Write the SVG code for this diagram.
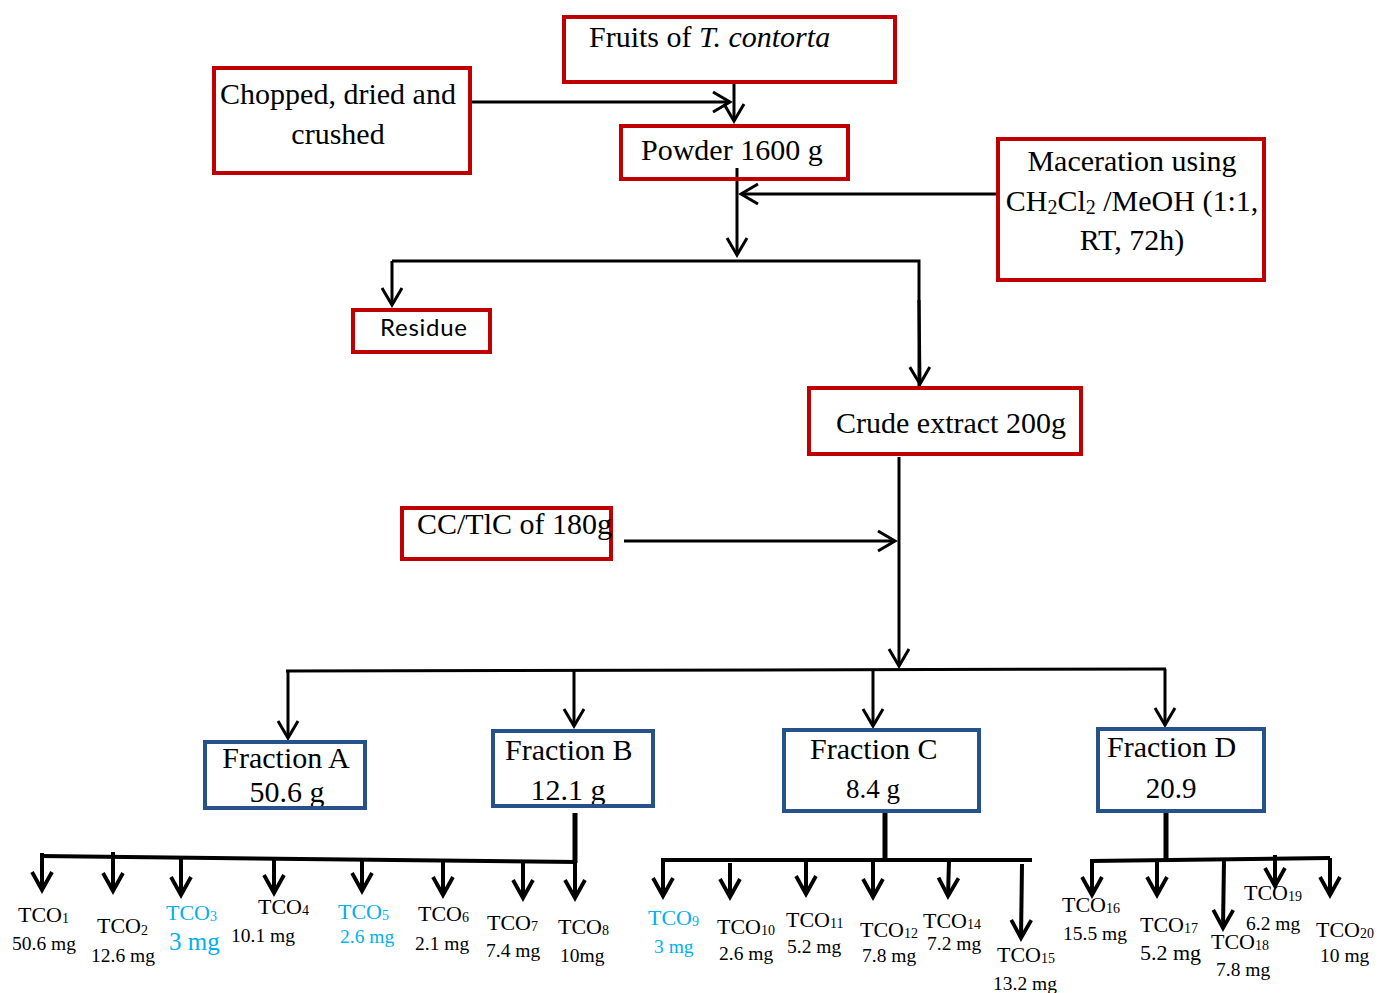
<svg xmlns="http://www.w3.org/2000/svg" width="1379" height="993" viewBox="0 0 1379 993">
  <defs>
    <style>
      .r { fill: none; stroke: #C00000; stroke-width: 4; }
      .b { fill: none; stroke: #27518A; stroke-width: 4; }
      .t { font-family: "Liberation Serif", "Times New Roman", serif; font-size: 30px; fill: #000; }
      .lbl { font-family: "Liberation Serif", "Times New Roman", serif; font-size: 22px; fill: #000; }
      .mg { font-family: "Liberation Serif", "Times New Roman", serif; font-size: 19.5px; fill: #000; }
      .blue { fill: #00B0F0; }
      .sub { font-size: 14px; }
      .big { font-size: 25px; }
      .mid { font-size: 22px; }
      .c { fill: none; stroke: #000; stroke-width: 3; }
      .c4 { fill: none; stroke: #000; stroke-width: 4; }
      .trunk { fill: none; stroke: #000; stroke-width: 5; }
    </style>
    <marker id="ah" viewBox="-22 -13 26 26" refX="0" refY="0" markerWidth="26" markerHeight="26" markerUnits="userSpaceOnUse" orient="auto">
      <path d="M-17,-10 L0,0 L-17,10" fill="none" stroke="#000" stroke-width="3"/>
    </marker>
    <marker id="ah4" viewBox="-22 -13 26 26" refX="0" refY="0" markerWidth="26" markerHeight="26" markerUnits="userSpaceOnUse" orient="auto">
      <path d="M-18,-10 L0,0 L-18,10" fill="none" stroke="#000" stroke-width="3.8"/>
    </marker>
  </defs>

  <rect width="1379" height="993" fill="#fff"/>

  <!-- connectors -->
  <g id="connectors">
    <!-- preparation -->
    <line class="c" x1="471" y1="102" x2="730" y2="102" marker-end="url(#ah)"/>
    <line class="c" x1="734" y1="84" x2="734" y2="121" marker-end="url(#ah)"/>
    <line class="c" x1="737" y1="168" x2="737" y2="255" marker-end="url(#ah)"/>
    <line class="c" x1="997" y1="194" x2="741" y2="194" marker-end="url(#ah)"/>
    <!-- split into residue and extract -->
    <polyline class="c" points="919,386 919,261 392,261"/>
    <line class="c" x1="392" y1="261" x2="392" y2="305" marker-end="url(#ah)"/>
    <line class="c" x1="919" y1="300" x2="920" y2="384" marker-end="url(#ah)"/>
    <!-- column chromatography -->
    <line class="c" x1="899" y1="457" x2="899" y2="666" marker-end="url(#ah)"/>
    <line class="c" x1="624" y1="541" x2="895" y2="541" marker-end="url(#ah)"/>
    <!-- fractions -->
    <line class="c" x1="286" y1="671" x2="1166" y2="669"/>
    <line class="c" x1="288" y1="671" x2="288" y2="738" marker-end="url(#ah)"/>
    <line class="c" x1="574" y1="670" x2="574" y2="726" marker-end="url(#ah)"/>
    <line class="c" x1="873" y1="669" x2="873" y2="726" marker-end="url(#ah)"/>
    <line class="c" x1="1165" y1="669" x2="1165" y2="725" marker-end="url(#ah)"/>

    <!-- fraction B subfractions -->
    <line class="trunk" x1="575" y1="813" x2="575" y2="863"/>
    <line class="c4" x1="40" y1="856" x2="577" y2="862"/>
    <line class="c4" x1="42" y1="853" x2="42" y2="890" marker-end="url(#ah4)"/>
    <line class="c4" x1="113" y1="852" x2="113" y2="891" marker-end="url(#ah4)"/>
    <line class="c4" x1="181" y1="858" x2="181" y2="895" marker-end="url(#ah4)"/>
    <line class="c4" x1="274" y1="859" x2="274" y2="893" marker-end="url(#ah4)"/>
    <line class="c4" x1="362" y1="860" x2="362" y2="891" marker-end="url(#ah4)"/>
    <line class="c4" x1="443" y1="861" x2="443" y2="895" marker-end="url(#ah4)"/>
    <line class="c4" x1="523" y1="862" x2="523" y2="898" marker-end="url(#ah4)"/>
    <line class="c4" x1="575" y1="862" x2="575" y2="898" marker-end="url(#ah4)"/>

    <!-- fraction C subfractions -->
    <line class="trunk" x1="885" y1="812" x2="885" y2="862"/>
    <line class="c4" x1="661" y1="860" x2="1032" y2="860"/>
    <line class="c4" x1="663" y1="860" x2="663" y2="896" marker-end="url(#ah4)"/>
    <line class="c4" x1="730" y1="863" x2="730" y2="897" marker-end="url(#ah4)"/>
    <line class="c4" x1="806" y1="860" x2="806" y2="894" marker-end="url(#ah4)"/>
    <line class="c4" x1="873" y1="862" x2="873" y2="897" marker-end="url(#ah4)"/>
    <line class="c4" x1="949" y1="860" x2="948" y2="896" marker-end="url(#ah4)"/>
    <line class="c4" x1="1022" y1="864" x2="1021" y2="938" marker-end="url(#ah4)"/>

    <!-- fraction D subfractions -->
    <line class="trunk" x1="1166" y1="812" x2="1166" y2="862"/>
    <line class="c4" x1="1090" y1="861" x2="1330" y2="858"/>
    <line class="c4" x1="1092" y1="860" x2="1092" y2="895" marker-end="url(#ah4)"/>
    <line class="c4" x1="1157" y1="860" x2="1157" y2="895" marker-end="url(#ah4)"/>
    <line class="c4" x1="1224" y1="860" x2="1223" y2="928" marker-end="url(#ah4)"/>
    <line class="c4" x1="1275" y1="855" x2="1275" y2="886" marker-end="url(#ah4)"/>
    <line class="c4" x1="1330" y1="858" x2="1330" y2="895" marker-end="url(#ah4)"/>
  </g>

  <!-- process steps -->
  <g id="fruits">
    <rect class="r" x="564" y="17" width="331" height="65"/>
    <text class="t" x="589" y="47">Fruits of <tspan font-style="italic">T. contorta</tspan></text>
  </g>
  <g id="chopped">
    <rect class="r" x="214" y="68" width="256" height="105"/>
    <text class="t" x="338" y="104" text-anchor="middle">Chopped, dried and</text>
    <text class="t" x="338" y="144" text-anchor="middle">crushed</text>
  </g>
  <g id="powder">
    <rect class="r" x="621" y="126" width="227" height="53"/>
    <text class="t" x="641" y="160">Powder 1600 g</text>
  </g>
  <g id="maceration">
    <rect class="r" x="998" y="139" width="266" height="141"/>
    <text class="t" x="1132" y="171" text-anchor="middle">Maceration using</text>
    <text class="t" x="1132" y="211" text-anchor="middle">CH<tspan style="font-size:20px" dy="3">2</tspan><tspan dy="-3">Cl</tspan><tspan style="font-size:20px" dy="3">2</tspan><tspan dy="-3"> /MeOH (1:1,</tspan></text>
    <text class="t" x="1132" y="250" text-anchor="middle">RT, 72h)</text>
  </g>
  <g id="residue">
    <rect class="r" x="353" y="310" width="137" height="42"/>
    <text x="380" y="336" font-family="Lato, 'Open Sans', sans-serif" font-size="24" textLength="87" fill="#000">Residue</text>
  </g>
  <g id="crude-extract">
    <rect class="r" x="809" y="388" width="272" height="66"/>
    <text class="t" x="836" y="433">Crude extract 200g</text>
  </g>
  <g id="cc-tlc">
    <rect class="r" x="402" y="508" width="209" height="51"/>
    <text class="t" x="417" y="534">CC/TlC of 180g</text>
  </g>

  <!-- fractions -->
  <g id="fraction-a">
    <text class="t" x="286" y="768" text-anchor="middle">Fraction A</text>
    <text class="t" x="287" y="802" text-anchor="middle">50.6 g</text>
    <rect class="b" x="205" y="742" width="160" height="66"/>
  </g>
  <g id="fraction-b">
    <text class="t" x="505" y="760">Fraction B</text>
    <text class="t" x="568" y="800" text-anchor="middle">12.1 g</text>
    <rect class="b" x="493" y="731" width="160" height="75"/>
  </g>
  <g id="fraction-c">
    <text class="t" x="810" y="759">Fraction C</text>
    <text class="t" x="873" y="798" text-anchor="middle" style="font-size:27px">8.4 g</text>
    <rect class="b" x="784" y="730" width="195" height="81"/>
  </g>
  <g id="fraction-d">
    <text class="t" x="1107" y="757">Fraction D</text>
    <text class="t" x="1171" y="798" text-anchor="middle" style="font-size:29px">20.9</text>
    <rect class="b" x="1098" y="729" width="166" height="82"/>
  </g>

  <!-- isolated compounds -->
  <g id="tco1"><text class="lbl" x="18" y="922">TCO<tspan class="sub" dy="1">1</tspan></text><text class="mg" x="12" y="950">50.6 mg</text></g>
  <g id="tco2"><text class="lbl" x="97" y="933">TCO<tspan class="sub" dy="2">2</tspan></text><text class="mg" x="91" y="962">12.6 mg</text></g>
  <g id="tco3"><text class="lbl blue" x="166" y="920">TCO<tspan class="sub" dy="1">3</tspan></text><text class="mg blue big" x="169" y="950">3 mg</text></g>
  <g id="tco4"><text class="lbl" x="258" y="914">TCO<tspan class="sub" dy="1">4</tspan></text><text class="mg" x="231" y="942">10.1 mg</text></g>
  <g id="tco5"><text class="lbl blue" x="338" y="919">TCO<tspan class="sub" dy="1">5</tspan></text><text class="mg blue" x="340" y="943">2.6 mg</text></g>
  <g id="tco6"><text class="lbl" x="418" y="921">TCO<tspan class="sub" dy="1">6</tspan></text><text class="mg" x="415" y="950">2.1 mg</text></g>
  <g id="tco7"><text class="lbl" x="487" y="930">TCO<tspan class="sub" dy="1">7</tspan></text><text class="mg" x="486" y="957">7.4 mg</text></g>
  <g id="tco8"><text class="lbl" x="558" y="934">TCO<tspan class="sub" dy="1">8</tspan></text><text class="mg" x="560" y="962">10mg</text></g>
  <g id="tco9"><text class="lbl blue" x="648" y="925">TCO<tspan class="sub" dy="1">9</tspan></text><text class="mg blue" x="654" y="953">3 mg</text></g>
  <g id="tco10"><text class="lbl" x="717" y="934">TCO<tspan class="sub" dy="1">10</tspan></text><text class="mg" x="719" y="960">2.6 mg</text></g>
  <g id="tco11"><text class="lbl" x="786" y="927">TCO<tspan class="sub" dy="1">11</tspan></text><text class="mg" x="787" y="953">5.2 mg</text></g>
  <g id="tco12"><text class="lbl" x="860" y="937">TCO<tspan class="sub" dy="1">12</tspan></text><text class="mg" x="862" y="962">7.8 mg</text></g>
  <g id="tco14"><text class="lbl" x="923" y="928">TCO<tspan class="sub" dy="1">14</tspan></text><text class="mg" x="927" y="950">7.2 mg</text></g>
  <g id="tco15"><text class="lbl" x="997" y="962">TCO<tspan class="sub" dy="1">15</tspan></text><text class="mg" x="993" y="990">13.2 mg</text></g>
  <g id="tco16"><text class="lbl" x="1062" y="912">TCO<tspan class="sub" dy="1">16</tspan></text><text class="mg" x="1063" y="940">15.5 mg</text></g>
  <g id="tco17"><text class="lbl" x="1140" y="932">TCO<tspan class="sub" dy="1">17</tspan></text><text class="mg mid" x="1140" y="960">5.2 mg</text></g>
  <g id="tco18"><text class="lbl" x="1211" y="949">TCO<tspan class="sub" dy="1">18</tspan></text><text class="mg" x="1216" y="976">7.8 mg</text></g>
  <g id="tco19"><text class="lbl" x="1244" y="900">TCO<tspan class="sub" dy="1">19</tspan></text><text class="mg" x="1246" y="930">6.2 mg</text></g>
  <g id="tco20"><text class="lbl" x="1316" y="937">TCO<tspan class="sub" dy="1">20</tspan></text><text class="mg" x="1320" y="962">10 mg</text></g>
</svg>
